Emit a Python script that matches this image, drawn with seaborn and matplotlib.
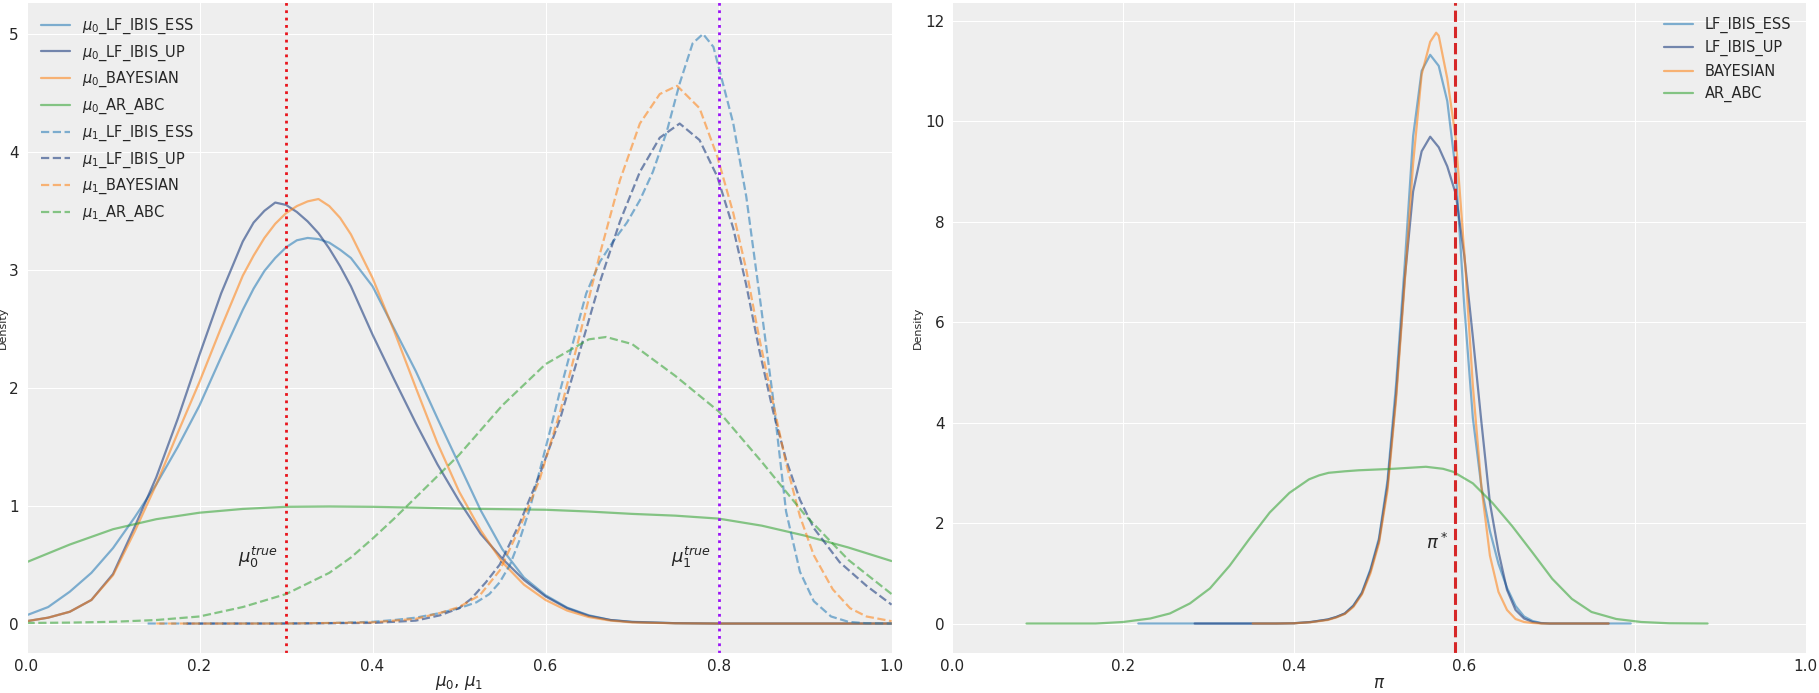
import pandas as pd
import matplotlib
matplotlib.use("Agg")
import matplotlib.pyplot as plt
import seaborn as sns

# ---------------------------------------------------------------
# density curves (left panel: mu0 / mu1)
# ---------------------------------------------------------------
mu0_x = [0.0, 0.025, 0.05, 0.075, 0.1, 0.125, 0.15, 0.175, 0.2, 0.225, 0.25,
         0.2625, 0.275, 0.2875, 0.3, 0.3125, 0.325, 0.3375, 0.35, 0.3625,
         0.375, 0.4, 0.425, 0.45, 0.475, 0.5, 0.525, 0.55, 0.575, 0.6, 0.625,
         0.65, 0.675, 0.7, 0.75, 0.8, 1.0]
mu0_ess = [0.07, 0.14, 0.27, 0.43, 0.64, 0.90, 1.18, 1.50, 1.85, 2.26, 2.66,
           2.84, 2.99, 3.10, 3.19, 3.25, 3.27, 3.26, 3.23, 3.17, 3.10, 2.86,
           2.50, 2.14, 1.74, 1.35, 0.96, 0.63, 0.39, 0.24, 0.135, 0.07, 0.03,
           0.015, 0.003, 0.0, 0.0]
mu0_up = [0.02, 0.05, 0.10, 0.20, 0.42, 0.82, 1.24, 1.74, 2.28, 2.80, 3.24,
          3.40, 3.50, 3.57, 3.55, 3.49, 3.41, 3.31, 3.18, 3.03, 2.86, 2.45,
          2.07, 1.70, 1.35, 1.04, 0.76, 0.55, 0.37, 0.23, 0.13, 0.065, 0.03,
          0.013, 0.003, 0.0, 0.0]
mu0_bayes = [0.02, 0.05, 0.10, 0.20, 0.41, 0.78, 1.18, 1.62, 2.05, 2.51, 2.95,
             3.12, 3.27, 3.39, 3.48, 3.54, 3.58, 3.60, 3.54, 3.44, 3.30, 2.93,
             2.48, 2.00, 1.53, 1.12, 0.79, 0.52, 0.33, 0.20, 0.11, 0.055,
             0.025, 0.01, 0.002, 0.0, 0.0]

abc0_x = [0.0, 0.05, 0.1, 0.15, 0.2, 0.25, 0.3, 0.35, 0.4, 0.45, 0.5, 0.55,
          0.6, 0.65, 0.7, 0.75, 0.8, 0.85, 0.9, 0.95, 1.0]
mu0_abc = [0.52, 0.67, 0.80, 0.885, 0.94, 0.972, 0.99, 0.993, 0.99, 0.983,
           0.975, 0.97, 0.965, 0.95, 0.93, 0.915, 0.89, 0.83, 0.745, 0.645, 0.53]

mu1_ess_x = [0.14, 0.2, 0.3, 0.35, 0.4, 0.425, 0.45, 0.475, 0.5, 0.52, 0.535,
             0.547, 0.559, 0.57, 0.582, 0.593, 0.605, 0.617, 0.632, 0.647,
             0.663, 0.678, 0.694, 0.709, 0.724, 0.74, 0.755, 0.77, 0.782,
             0.794, 0.805, 0.817, 0.832, 0.847, 0.863, 0.878, 0.894, 0.91,
             0.93, 0.95, 0.97, 1.0]
mu1_ess = [0.0, 0.0, 0.001, 0.004, 0.015, 0.03, 0.05, 0.085, 0.13, 0.18, 0.25,
           0.35, 0.50, 0.71, 0.98, 1.29, 1.63, 1.98, 2.39, 2.80, 3.07, 3.24,
           3.40, 3.59, 3.83, 4.17, 4.58, 4.92, 5.00, 4.89, 4.58, 4.24, 3.62,
           2.80, 1.91, 0.95, 0.44, 0.19, 0.06, 0.015, 0.003, 0.0]

mu1_up_x = [0.185, 0.3, 0.4, 0.45, 0.478, 0.5, 0.514, 0.531, 0.547, 0.57,
            0.593, 0.617, 0.64, 0.663, 0.686, 0.709, 0.732, 0.755, 0.778,
            0.7985, 0.817, 0.832, 0.847, 0.863, 0.878, 0.894, 0.91, 0.94,
            0.971, 1.0]
mu1_up = [0.0, 0.0, 0.005, 0.025, 0.07, 0.13, 0.21, 0.35, 0.50, 0.85, 1.26,
          1.74, 2.32, 2.90, 3.41, 3.83, 4.12, 4.24, 4.10, 3.79, 3.35, 2.87,
          2.32, 1.80, 1.39, 1.05, 0.81, 0.52, 0.32, 0.16]

mu1_bayes_x = [0.15, 0.3, 0.4, 0.45, 0.478, 0.5, 0.524, 0.547, 0.57, 0.593,
               0.617, 0.64, 0.663, 0.686, 0.709, 0.732, 0.752, 0.778, 0.7985,
               0.817, 0.832, 0.847, 0.863, 0.878, 0.894, 0.91, 0.932, 0.952,
               0.971, 1.0]
mu1_bayes = [0.0, 0.0, 0.01, 0.04, 0.09, 0.14, 0.24, 0.45, 0.81, 1.22, 1.80,
             2.46, 3.14, 3.76, 4.24, 4.49, 4.56, 4.37, 3.96, 3.48, 3.00, 2.42,
             1.87, 1.36, 0.91, 0.58, 0.29, 0.13, 0.06, 0.02]

abc1_x = [0.0, 0.05, 0.1, 0.15, 0.2, 0.25, 0.3, 0.35, 0.375, 0.4, 0.425, 0.45,
          0.475, 0.5, 0.55, 0.6, 0.65, 0.67, 0.7, 0.75, 0.8, 0.85, 0.9, 0.95,
          1.0]
mu1_abc = [0.005, 0.008, 0.015, 0.03, 0.06, 0.14, 0.25, 0.43, 0.56, 0.72,
           0.89, 1.07, 1.25, 1.43, 1.85, 2.20, 2.41, 2.43, 2.37, 2.10, 1.80,
           1.37, 0.92, 0.54, 0.25]

# ---------------------------------------------------------------
# right panel: pi
# ---------------------------------------------------------------
pi_ess_x = [0.218, 0.3, 0.38, 0.4, 0.42, 0.44, 0.45, 0.46, 0.47, 0.48, 0.49,
            0.5, 0.51, 0.52, 0.53, 0.54, 0.55, 0.56, 0.57, 0.58, 0.59, 0.6,
            0.61, 0.62, 0.63, 0.64, 0.65, 0.66, 0.67, 0.68, 0.69, 0.7, 0.795]
pi_ess = [0.0, 0.0, 0.0, 0.005, 0.03, 0.08, 0.13, 0.20, 0.36, 0.62, 1.08,
          1.70, 2.85, 4.75, 7.10, 9.70, 11.0, 11.32, 11.1, 10.4, 9.0, 6.3,
          4.09, 2.72, 1.84, 1.19, 0.71, 0.35, 0.14, 0.05, 0.01, 0.0, 0.0]

pi_up_x = [0.284, 0.38, 0.4, 0.42, 0.44, 0.45, 0.46, 0.47, 0.48, 0.49, 0.5,
           0.51, 0.52, 0.53, 0.54, 0.55, 0.56, 0.57, 0.58, 0.59, 0.6, 0.61,
           0.62, 0.63, 0.64, 0.65, 0.66, 0.67, 0.68, 0.69, 0.7, 0.769]
pi_up = [0.0, 0.0, 0.005, 0.03, 0.08, 0.13, 0.20, 0.35, 0.60, 1.05, 1.65,
         2.75, 4.55, 6.83, 8.60, 9.40, 9.69, 9.48, 9.10, 8.55, 7.31, 5.70,
         4.01, 2.40, 1.43, 0.67, 0.27, 0.10, 0.03, 0.005, 0.0, 0.0]

pi_bayes_x = [0.352, 0.38, 0.4, 0.42, 0.44, 0.45, 0.46, 0.47, 0.48, 0.49, 0.5,
              0.51, 0.52, 0.53, 0.54, 0.55, 0.56, 0.567, 0.57, 0.58, 0.59,
              0.6, 0.61, 0.62, 0.63, 0.64, 0.65, 0.66, 0.67, 0.68, 0.69, 0.769]
pi_bayes = [0.0, 0.0, 0.004, 0.025, 0.07, 0.12, 0.19, 0.33, 0.58, 1.00, 1.60,
            2.65, 4.45, 6.75, 9.16, 10.93, 11.58, 11.76, 11.70, 10.85, 9.65,
            7.39, 4.73, 2.72, 1.35, 0.63, 0.27, 0.09, 0.03, 0.01, 0.0, 0.0]

pi_abc_x = [0.087, 0.168, 0.2, 0.232, 0.255, 0.2785, 0.302, 0.325, 0.348,
            0.372, 0.395, 0.418, 0.43, 0.441, 0.46, 0.476, 0.517, 0.555, 0.575,
            0.587, 0.61, 0.633, 0.656, 0.68, 0.703, 0.726, 0.749, 0.778,
            0.8075, 0.84, 0.885]
pi_abc = [0.0, 0.0, 0.03, 0.10, 0.20, 0.40, 0.70, 1.15, 1.68, 2.21, 2.60,
          2.87, 2.95, 3.00, 3.03, 3.05, 3.08, 3.12, 3.08, 3.02, 2.79, 2.40,
          1.94, 1.41, 0.89, 0.49, 0.23, 0.09, 0.03, 0.005, 0.0]

methods = ["LF_IBIS_ESS", "LF_IBIS_UP", "BAYESIAN", "AR_ABC"]
colors = {"LF_IBIS_ESS": "#1f77b4", "LF_IBIS_UP": "#1f3f80",
          "BAYESIAN": "#ff7f0e", "AR_ABC": "#2ca02c"}
alphas = {"LF_IBIS_ESS": 0.55, "LF_IBIS_UP": 0.6, "BAYESIAN": 0.55, "AR_ABC": 0.55}

mu0_curves = {"LF_IBIS_ESS": (mu0_x, mu0_ess), "LF_IBIS_UP": (mu0_x, mu0_up),
              "BAYESIAN": (mu0_x, mu0_bayes), "AR_ABC": (abc0_x, mu0_abc)}
mu1_curves = {"LF_IBIS_ESS": (mu1_ess_x, mu1_ess), "LF_IBIS_UP": (mu1_up_x, mu1_up),
              "BAYESIAN": (mu1_bayes_x, mu1_bayes), "AR_ABC": (abc1_x, mu1_abc)}
pi_curves = {"LF_IBIS_ESS": (pi_ess_x, pi_ess), "LF_IBIS_UP": (pi_up_x, pi_up),
             "BAYESIAN": (pi_bayes_x, pi_bayes), "AR_ABC": (pi_abc_x, pi_abc)}

# =====================
# style
# =====================
sns.set_style("darkgrid", {"axes.facecolor": "#eeeeee", "grid.color": "white"})
plt.rcParams["font.family"] = ["DejaVu Sans"]
plt.rcParams["text.color"] = "#262626"
plt.rcParams["xtick.color"] = "#262626"
plt.rcParams["ytick.color"] = "#262626"

fig = plt.figure(figsize=(18.19, 6.93), dpi=100)
ax1 = fig.add_axes([0.01457, 0.058, 0.4756, 0.939])
ax2 = fig.add_axes([0.5235, 0.058, 0.4692, 0.939])


def draw(ax, curves, prefix, ls):
    for m in methods:
        xs, ys = curves[m]
        df = pd.DataFrame({"x": xs, "y": ys})
        sns.lineplot(data=df, x="x", y="y", ax=ax, sort=False, estimator=None,
                     color=colors[m], alpha=alphas[m], linestyle=ls,
                     linewidth=1.6, label=prefix + m)


# =====================
# left: mu0 / mu1
# =====================
draw(ax1, mu0_curves, r"$\mu_0$_", "-")
draw(ax1, mu1_curves, r"$\mu_1$_", "--")
ax1.axvline(0.3, color="#e8141c", linestyle=":", linewidth=2)
ax1.axvline(0.8, color="#9b14f5", linestyle=":", linewidth=2)
ax1.text(0.268, 0.56, r"$\mu_0^{true}$", fontsize=13, ha="center", va="center")
ax1.text(0.768, 0.56, r"$\mu_1^{true}$", fontsize=13, ha="center", va="center")
ax1.set_xlim(0, 1)
ax1.set_ylim(-0.248, 5.27)
ax1.set_yticks([0, 1, 2, 3, 4, 5])
ax1.set_xlabel(r"$\mu_0$, $\mu_1$", fontsize=12, labelpad=0)
ax1.set_ylabel("Density", fontsize=8, labelpad=1)
ax1.legend(loc="upper left", frameon=False, fontsize=10.5, handlelength=2.0,
           borderaxespad=0.6)

# =====================
# right: pi
# =====================
draw(ax2, pi_curves, "", "-")
ax2.axvline(0.589, color="#d62728", linestyle="--", linewidth=2.2)
ax2.text(0.568, 1.61, r"$\pi^*$", fontsize=13, ha="center", va="center")
ax2.set_xlim(0, 1)
ax2.set_ylim(-0.583, 12.37)
ax2.set_yticks([0, 2, 4, 6, 8, 10, 12])
ax2.set_xlabel(r"$\pi$", fontsize=12, labelpad=0)
ax2.set_ylabel("Density", fontsize=8, labelpad=2)
ax2.legend(loc="upper right", frameon=False, fontsize=10.5, handlelength=2.0,
           borderaxespad=0.6)

for ax in (ax1, ax2):
    ax.set_xticks([0.0, 0.2, 0.4, 0.6, 0.8, 1.0])
    ax.tick_params(axis="x", labelsize=11, pad=1)
    ax.tick_params(axis="y", labelsize=11, pad=2)

fig.savefig("out.png", dpi=100)
plt.close(fig)
